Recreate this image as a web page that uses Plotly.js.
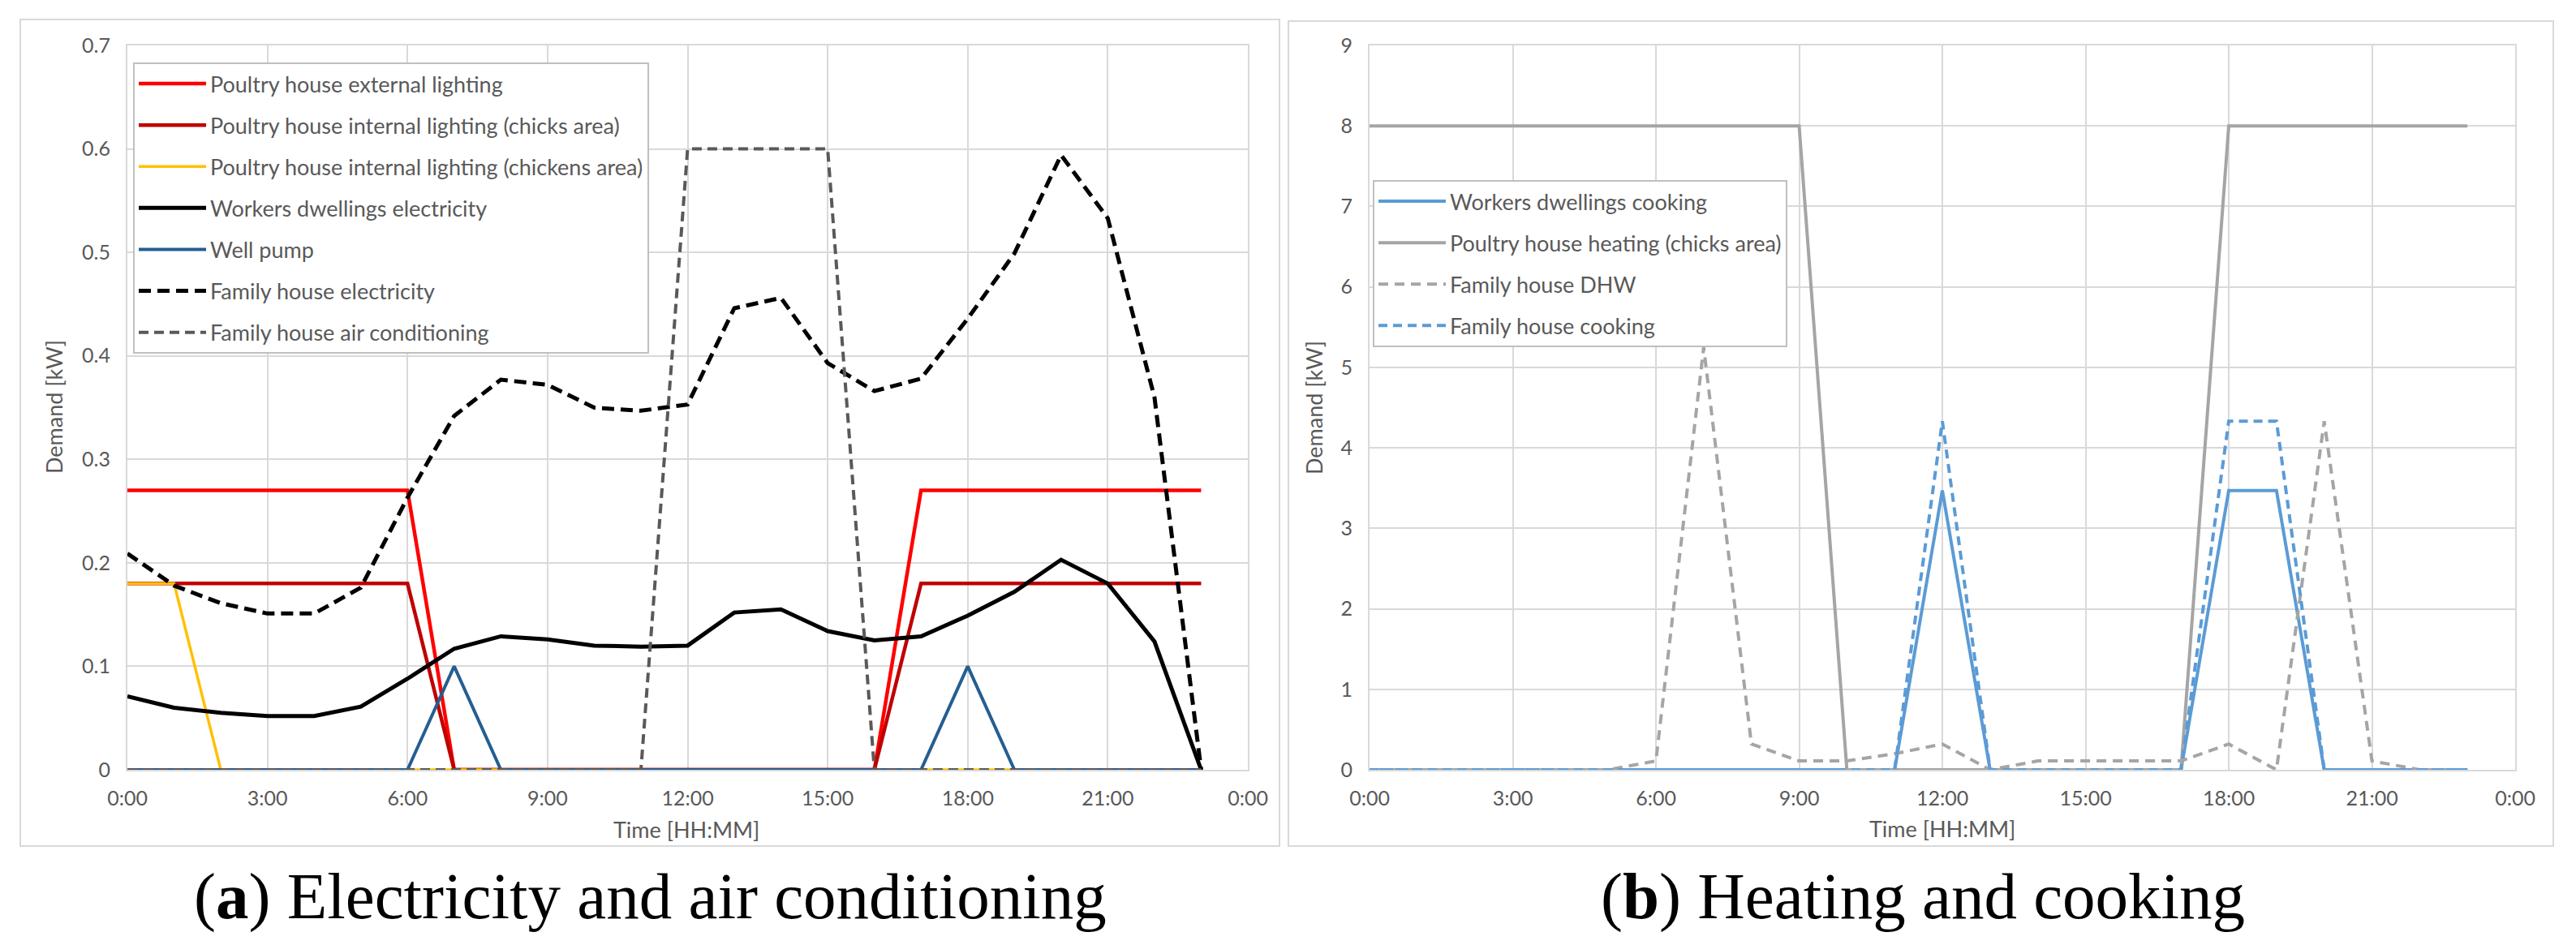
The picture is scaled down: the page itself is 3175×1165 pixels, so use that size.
<!DOCTYPE html>
<html>
<head>
<meta charset="utf-8">
<script src="https://cdn.plot.ly/plotly-3.0.1.min.js"></script>
<style>
  html, body { margin: 0; padding: 0; background: #fff; }
  #chart { width: 3175px; height: 1165px; }
</style>
</head>
<body>
<div id="chart"></div>
<script>
// Hourly demand profiles, two panels ----------------------------------------
const W = 3175, H = 1165;
const px = x => x / W;
const py = y => 1 - y / H;

// ----- shared x axis -----
const hours = [0, 1, 2, 3, 4, 5, 6, 7, 8, 9, 10, 11, 12, 13, 14, 15, 16, 17, 18, 19, 20, 21, 22, 23];
const tickHours = [0, 3, 6, 9, 12, 15, 18, 21, 24];
const tickLabels = ['0:00', '3:00', '6:00', '9:00', '12:00', '15:00', '18:00', '21:00', '0:00'];

// ----- (a) electricity and air conditioning, kW -----
const extLighting     = [0.27, 0.27, 0.27, 0.27, 0.27, 0.27, 0.27, 0, 0, 0, 0, 0, 0, 0, 0, 0, 0, 0.27, 0.27, 0.27, 0.27, 0.27, 0.27, 0.27];
const chicksLighting  = [0.18, 0.18, 0.18, 0.18, 0.18, 0.18, 0.18, 0, 0, 0, 0, 0, 0, 0, 0, 0, 0, 0.18, 0.18, 0.18, 0.18, 0.18, 0.18, 0.18];
const chickensLighting = [0.18, 0.18, 0, 0, 0, 0, 0, 0, 0, 0, 0, 0, 0, 0, 0, 0, 0, 0, 0, 0, 0, 0, 0, 0];
const workersElec     = [0.071, 0.060, 0.055, 0.052, 0.052, 0.061, 0.088, 0.117, 0.129, 0.126, 0.120, 0.119, 0.120, 0.152, 0.155, 0.134, 0.125, 0.129, 0.149, 0.172, 0.203, 0.180, 0.124, 0];
const wellPump        = [0, 0, 0, 0, 0, 0, 0, 0.1, 0, 0, 0, 0, 0, 0, 0, 0, 0, 0, 0.1, 0, 0, 0, 0, 0];
const familyElec      = [0.209, 0.178, 0.161, 0.151, 0.151, 0.176, 0.263, 0.342, 0.377, 0.372, 0.350, 0.347, 0.353, 0.446, 0.456, 0.393, 0.366, 0.378, 0.436, 0.499, 0.594, 0.533, 0.360, 0];
const familyAC        = [0, 0, 0, 0, 0, 0, 0, 0, 0, 0, 0, 0, 0.6, 0.6, 0.6, 0.6, 0, 0, 0, 0, 0, 0, 0, 0];

// ----- (b) heating and cooking, kW -----
const workersCooking  = [0, 0, 0, 0, 0, 0, 0, 0, 0, 0, 0, 0, 3.47, 0, 0, 0, 0, 0, 3.47, 3.47, 0, 0, 0, 0];
const chicksHeating   = [8, 8, 8, 8, 8, 8, 8, 8, 8, 8, 0, 0, 0, 0, 0, 0, 0, 0, 8, 8, 8, 8, 8, 8];
const familyDHW       = [0, 0, 0, 0, 0, 0, 0.11, 5.25, 0.32, 0.11, 0.11, 0.2, 0.32, 0, 0.11, 0.11, 0.11, 0.11, 0.32, 0, 4.33, 0.11, 0, 0];
const familyCooking   = [0, 0, 0, 0, 0, 0, 0, 0, 0, 0, 0, 0, 4.33, 0, 0, 0, 0, 0, 4.33, 4.33, 0, 0, 0, 0];

const FONT = 'Lato, "Open Sans", sans-serif';
const GREY_TXT = '#595959';
const GRID = '#D9D9D9';

function line(name, y, color, width, dash, axis, legend, group) {
    return {
        type: 'scatter', mode: 'lines', name, x: hours, y,
        xaxis: axis[0], yaxis: axis[1], legend, legendgroup: group,
        line: { color, width, dash: dash || 'solid' },
        hoverinfo: 'skip',
    };
}
const A = ['x', 'y'], B = ['x2', 'y2'];

const traces = [
    line('Poultry house external lighting', extLighting, '#FF0000', 4.5, null, A, 'legend', 'a1'),
    line('Poultry house internal lighting (chicks area)', chicksLighting, '#C00000', 4.5, null, A, 'legend', 'a2'),
    line('Poultry house internal lighting (chickens area)', chickensLighting, '#FFC000', 3.5, null, A, 'legend', 'a3'),
    line('Workers dwellings electricity', workersElec, '#000000', 5, null, A, 'legend', 'a4'),
    line('Well pump', wellPump, '#255E91', 4, null, A, 'legend', 'a5'),
    line('Family house electricity', familyElec, '#000000', 5, '15px,8px', A, 'legend', 'a6'),
    line('Family house air conditioning', familyAC, '#595959', 4, '12px,7px', A, 'legend', 'a7'),

    line('Workers dwellings cooking', workersCooking, '#5B9BD5', 4, null, B, 'legend2', 'b1'),
    line('Poultry house heating (chicks area)', chicksHeating, '#A5A5A5', 4, null, B, 'legend2', 'b2'),
    line('Family house DHW', familyDHW, '#A5A5A5', 4, '12px,8px', B, 'legend2', 'b3'),
    line('Family house cooking', familyCooking, '#5B9BD5', 4, '11px,7px', B, 'legend2', 'b4'),
];

const tickFont = { family: FONT, size: 25, color: GREY_TXT };
const xBase = {
    range: [0, 24], tickmode: 'array', tickvals: tickHours, ticktext: tickLabels,
    showgrid: true, gridcolor: GRID, gridwidth: 2,
    showline: true, mirror: true, linecolor: GRID, linewidth: 2, zeroline: false,
    ticks: 'outside', ticklen: 12, tickcolor: 'rgba(0,0,0,0)',
    tickfont: tickFont, fixedrange: true,
};
const yBase = {
    showgrid: true, gridcolor: GRID, gridwidth: 2,
    showline: true, mirror: true, linecolor: GRID, linewidth: 2, zeroline: false,
    ticks: 'outside', ticklen: 14, tickcolor: 'rgba(0,0,0,0)',
    tickfont: tickFont, fixedrange: true,
};
const legendBase = {
    xanchor: 'left', yanchor: 'top', bgcolor: '#FFFFFF',
    bordercolor: '#BFBFBF', borderwidth: 2,
    font: { family: FONT, size: 27, color: GREY_TXT },
    itemwidth: 83, traceorder: 'grouped', tracegroupgap: 13,
};
const note = (text, x, y, size, extra) => Object.assign({
    text, x: px(x), y: py(y), xref: 'paper', yref: 'paper', showarrow: false,
    xanchor: 'center', yanchor: 'middle',
    font: { family: FONT, size, color: GREY_TXT },
}, extra || {});
const capFont = { family: '"Liberation Serif", "DejaVu Serif", serif', size: 81, color: '#000000' };

const layout = {
    width: W, height: H,
    margin: { l: 0, r: 0, t: 0, b: 0 },
    paper_bgcolor: '#FFFFFF', plot_bgcolor: '#FFFFFF',
    xaxis:  { ...xBase, domain: [px(157), px(1538)], anchor: 'y' },
    yaxis:  { ...yBase, domain: [py(949), py(56)], range: [0, 0.7], dtick: 0.1, anchor: 'x' },
    xaxis2: { ...xBase, domain: [px(1688), px(3100)], anchor: 'y2' },
    yaxis2: { ...yBase, domain: [py(949), py(56)], range: [0, 9], dtick: 1, anchor: 'x2' },
    legend:  { ...legendBase, x: px(164), y: py(77) },
    legend2: { ...legendBase, x: px(1692), y: py(222) },
    shapes: [
        { type: 'rect', xref: 'paper', yref: 'paper', x0: px(25), x1: px(1577), y0: py(1043), y1: py(24), line: { color: GRID, width: 2 } },
        { type: 'rect', xref: 'paper', yref: 'paper', x0: px(1588), x1: px(3147), y0: py(1043), y1: py(26), line: { color: GRID, width: 2 } },
    ],
    annotations: [
        note('Demand [kW]', 66, 502, 27, { textangle: -90 }),
        note('Demand [kW]', 1619, 503, 27, { textangle: -90 }),
        note('Time [HH:MM]', 846, 1022, 27),
        note('Time [HH:MM]', 2394, 1021, 27),
        note('(<b>a</b>) Electricity and air conditioning', 801, 1105, 81, { font: capFont }),
        note('(<b>b</b>) Heating and cooking', 2370, 1105, 81, { font: capFont }),
    ],
    showlegend: true,
};

Plotly.newPlot('chart', traces, layout, { displayModeBar: false, staticPlot: true });
</script>
</body>
</html>
